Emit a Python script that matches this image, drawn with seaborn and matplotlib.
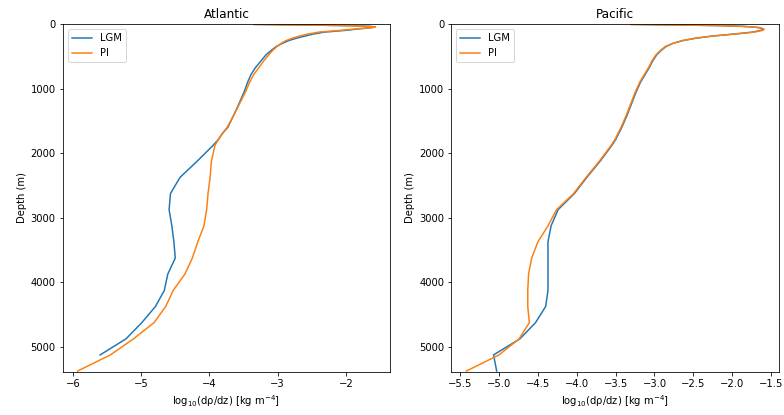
import numpy as np
import pandas as pd
import matplotlib
matplotlib.use("Agg")
import matplotlib.pyplot as plt
import seaborn as sns

# model level depths (m)
depth = [5, 15, 25, 35, 45, 55, 75, 95, 125, 155, 186, 220, 257, 298, 347, 404,
         475, 564, 681, 780, 901, 1047, 1217, 1404, 1599, 1695, 1790, 1883,
         2125, 2375, 2625, 2875, 3125, 3375, 3625, 3875, 4125, 4375, 4625,
         4875, 5125, 5375]

# log10(drho/dz)
atl_lgm = [-3.35, -2.55, -1.95, -1.66, -1.58, -1.62, -1.82, -1.98, -2.32, -2.48,
           -2.60, -2.73, -2.84, -2.93, -3.02, -3.09,
           -3.17, -3.24, -3.33, -3.39, -3.44, -3.49, -3.56, -3.64, -3.73, -3.81,
           -3.87, -3.95,
           -4.18, -4.43, -4.57, -4.59, -4.55, -4.52, -4.50, -4.61, -4.66, -4.79,
           -4.99, -5.22, -5.60, np.nan]
atl_pi = [-3.35, -2.55, -1.95, -1.65, -1.57, -1.62, -1.85, -2.05, -2.40, -2.56,
          -2.68, -2.79, -2.88, -2.95, -3.01, -3.07,
          -3.13, -3.20, -3.28, -3.35, -3.41, -3.47, -3.55, -3.64, -3.74, -3.81,
          -3.87, -3.92,
          -3.97, -3.99, -4.02, -4.04, -4.08, -4.17, -4.25, -4.36, -4.53, -4.64,
          -4.81, -5.11, -5.45, -5.93]

pac_lgm = [-3.30, -2.64, -2.13, -1.87, -1.74, -1.66, -1.60, -1.62, -1.74, -1.98,
           -2.26, -2.48, -2.64, -2.76, -2.85, -2.91,
           -2.97, -3.02, -3.07, -3.12, -3.18, -3.235, -3.29, -3.35, -3.42, -3.46,
           -3.50, -3.55,
           -3.70, -3.87, -4.03, -4.24, -4.33, -4.37, -4.37, -4.37, -4.37, -4.40,
           -4.53, -4.73, -5.07, -5.03]
pac_pi = [-3.30, -2.64, -2.13, -1.87, -1.74, -1.65, -1.59, -1.60, -1.72, -1.97,
          -2.25, -2.47, -2.64, -2.76, -2.86, -2.92,
          -2.98, -3.03, -3.08, -3.13, -3.19, -3.245, -3.30, -3.36, -3.43, -3.47,
          -3.51, -3.56,
          -3.71, -3.88, -4.04, -4.26, -4.37, -4.50, -4.58, -4.62, -4.63, -4.63,
          -4.61, -4.74, -5.00, -5.42]

basins = {"Atlantic": (atl_lgm, atl_pi), "Pacific": (pac_lgm, pac_pi)}

fig, axs = plt.subplots(1, 2, figsize=(784 / 72, 415 / 72), dpi=72)
fig.subplots_adjust(left=0.08, right=0.9936, bottom=0.1036, top=0.942, wspace=0.187)

for ax, (name, (lgm, pi)) in zip(axs, basins.items()):
    df = pd.concat([
        pd.DataFrame({"depth": depth, "val": lgm, "run": "LGM"}),
        pd.DataFrame({"depth": depth, "val": pi, "run": "PI"}),
    ]).dropna()
    sns.lineplot(data=df, x="val", y="depth", hue="run", orient="y",
                 estimator=None, palette=["#1f77b4", "#ff7f0e"], ax=ax)
    ax.set_ylim(max(depth) + 15, 0)
    ax.set_title(name)
    ax.set_ylabel("Depth (m)")
    ax.set_xlabel("log$_{10}$(dρ/dz) [kg m$^{-4}$]")
    ax.legend(loc="upper left")

fig.savefig("out.png", dpi=72)
